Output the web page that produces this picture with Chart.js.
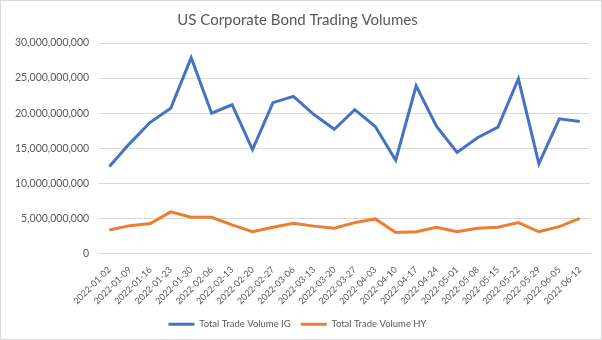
<!DOCTYPE html>
<html><head><meta charset="utf-8">
<script src="https://cdn.jsdelivr.net/npm/chart.js@4"></script>
<style>
html,body{margin:0;padding:0;background:#fff;}
#wrap{width:600px;height:338px;border:1px solid #d9d9d9;position:relative;}
</style></head>
<body><div id="wrap"><canvas id="c" width="600" height="338"></canvas></div>
<script>
const categories = ["2022-01-02","2022-01-09","2022-01-16","2022-01-23","2022-01-30","2022-02-06","2022-02-13","2022-02-20","2022-02-27","2022-03-06","2022-03-13","2022-03-20","2022-03-27","2022-04-03","2022-04-10","2022-04-17","2022-04-24","2022-05-01","2022-05-08","2022-05-15","2022-05-22","2022-05-29","2022-06-05","2022-06-12"];
const volumeIG = [12.4e9,15.7e9,18.7e9,20.7e9,27.9e9,20.0e9,21.2e9,14.8e9,21.5e9,22.4e9,19.8e9,17.7e9,20.5e9,18.1e9,13.3e9,23.9e9,18.1e9,14.4e9,16.5e9,18.0e9,24.9e9,12.8e9,19.2e9,18.8e9];
const volumeHY = [3.35e9,3.97e9,4.26e9,5.93e9,5.17e9,5.17e9,4.07e9,3.11e9,3.73e9,4.31e9,3.9e9,3.6e9,4.4e9,4.93e9,3.0e9,3.1e9,3.73e9,3.1e9,3.6e9,3.73e9,4.4e9,3.1e9,3.83e9,5.02e9];
const yTicks = [0,5e9,10e9,15e9,20e9,25e9,30e9];

const FONT = "Lato, 'Liberation Sans', sans-serif";
new Chart(document.getElementById('c'), {
  type: 'line',
  data: {
    labels: categories,
    datasets: [
      {label: 'Total Trade Volume IG', data: volumeIG, borderColor: '#4472C4', backgroundColor: '#4472C4', borderWidth: 3, pointRadius: 0, tension: 0},
      {label: 'Total Trade Volume HY', data: volumeHY, borderColor: '#ED7D31', backgroundColor: '#ED7D31', borderWidth: 3, pointRadius: 0, tension: 0}
    ]
  },
  options: {
    responsive: false,
    animation: false,
    layout: {padding: {left: 4, right: 11, top: 4, bottom: 0}},
    plugins: {
      title: {display: true, text: 'US Corporate Bond Trading Volumes', color: '#595959', font: {family: FONT, size: 15, weight: 'normal'}, padding: {top: 6, bottom: 14}},
      legend: {position: 'bottom', labels: {usePointStyle: true, pointStyle: 'line', pointStyleWidth: 26, color: '#595959', font: {family: FONT, size: 9.5}, padding: 10}},
      tooltip: {enabled: false}
    },
    scales: {
      x: {
        grid: {display: false, drawTicks: false},
        border: {display: true, color: '#d9d9d9'},
        offset: true,
        afterFit: (axis) => { axis.height = 56; },
        ticks: {color: '#595959', font: {family: FONT, size: 9}, maxRotation: 45, minRotation: 45, autoSkip: false, padding: 11}
      },
      y: {
        min: 0, max: 30e9,
        afterBuildTicks: (axis) => { axis.ticks = yTicks.map(v => ({value: v})); },
        grid: {color: '#d9d9d9', drawTicks: false},
        border: {display: false},
        ticks: {color: '#595959', font: {family: FONT, size: 10.5}, padding: 10, callback: v => v.toLocaleString('en-US')}
      }
    }
  }
});
</script></body></html>
